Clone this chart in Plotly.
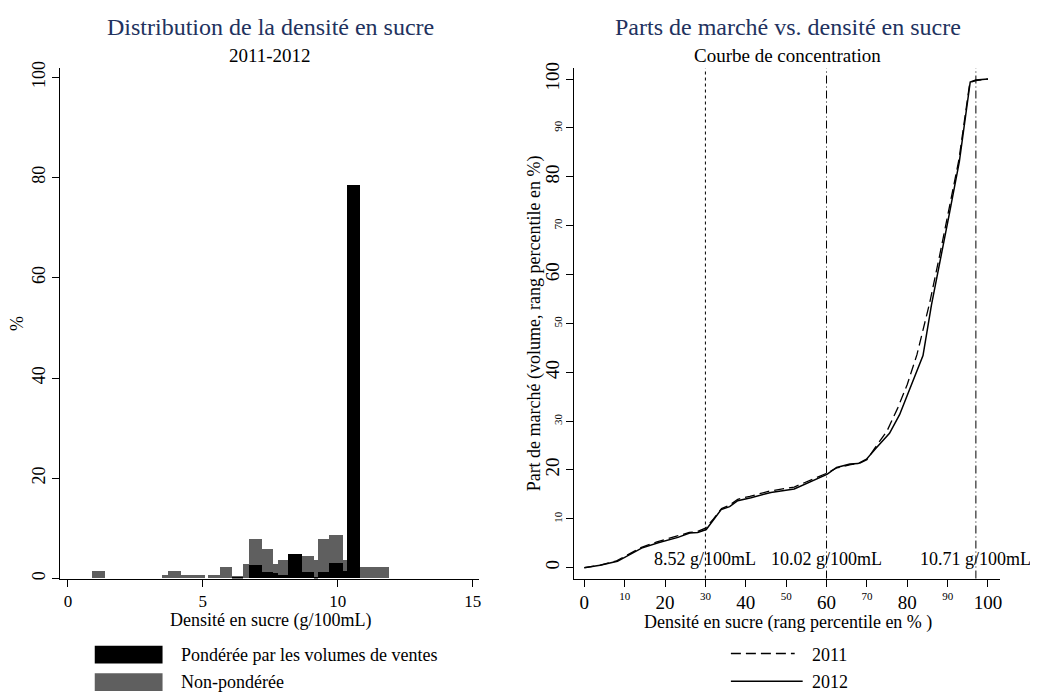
import plotly.graph_objects as go

# ---------------- Data: histogram (left) ----------------
bin_left = [0.89, 3.48, 3.71, 4.17, 4.62, 5.18, 5.62, 6.08, 6.50, 6.70, 7.19, 7.61, 7.79, 8.16, 8.67, 9.12, 9.25, 9.68, 10.20, 10.35, 10.82]
bin_right = [1.38, 3.71, 4.17, 4.62, 5.06, 5.62, 6.08, 6.50, 6.70, 7.19, 7.61, 7.79, 8.16, 8.67, 9.12, 9.25, 9.68, 10.20, 10.35, 10.82, 11.90]
pct_unweighted = [1.4, 0.6, 1.4, 0.6, 0.6, 0.6, 2.2, 0.5, 2.8, 7.9, 5.8, 2.8, 3.6, 3.0, 4.5, 3.6, 7.9, 8.7, 3.6, 2.0, 2.2]
pct_weighted = [0.0, 0.0, 0.0, 0.0, 0.0, 0.0, 0.0, 0.3, 0.0, 2.6, 1.2, 1.0, 0.7, 4.8, 1.2, 0.2, 1.3, 3.0, 1.5, 78.4, 0.0]

# ---------------- Data: concentration curves (right) ----------------
rank_2012 = [0, 3.9, 8.2, 11, 14.2, 18.3, 23.2, 26.1, 28.1, 30.2, 31.9, 33.9, 36, 38, 41.3, 46.2, 52, 56.1, 60.1, 62.5,
             65.8, 67.8, 69.9, 72.3, 75.6, 78.1, 80.6, 83.9, 86, 88.4, 90.4, 92.9, 95.6, 97, 100]
share_2012 = [0, 0.5, 1.3, 2.6, 4.0, 5.1, 6.2, 7.1, 7.2, 7.8, 9.7, 11.9, 12.5, 13.7, 14.3, 15.4, 16.1, 17.6, 19.1, 20.5,
              21.2, 21.3, 22.2, 24.5, 27.5, 31.3, 36.6, 43.4, 53.8, 63.6, 72.3, 83.1, 99.4, 99.8, 100]
rank_2011 = [0, 4, 8, 11, 14, 18, 23, 26, 28, 30, 32, 34, 36, 38, 41, 46, 52, 56, 60, 62.5,
             66, 68, 70, 72, 75, 77.6, 80, 82.4, 85.5, 88, 90.2, 92.8, 95.5, 97, 100]
share_2011 = [0, 0.5, 1.4, 2.7, 4.1, 5.3, 6.4, 7.2, 7.4, 8.1, 10, 12.1, 12.8, 14, 14.6, 15.7, 16.5, 17.9, 19.3, 20.4,
              21.1, 21.3, 22.1, 24.5, 28, 32.6, 37.5, 43.6, 54, 63.8, 72.5, 83.5, 99.3, 99.7, 100]

ref_percentiles = [30, 60, 97]
ref_labels = ["8.52 g/100mL", "10.02 g/100mL", "10.71 g/100mL"]
ref_dashes = ["dot", "8px,3px,1px,3px", "8px,3px,1px,3px"]

left_xticks = [0, 5, 10, 15]
left_yticks = [0, 20, 40, 60, 80, 100]
right_major = [0, 20, 40, 60, 80, 100]
right_minor = [10, 30, 50, 70, 90]

# ---------------- Style ----------------
FONT = "Liberation Serif"
NAVY = "#22325e"
GRAY = "#5f5f5f"
OFF = 8              # page body margin
W, H = 1030, 687     # figure size (page offset compensates)


def px(x):
    return (x - OFF) / W


def py(y):
    return 1 - (y - OFF) / H


centers = [(a + b) / 2 for a, b in zip(bin_left, bin_right)]
widths = [b - a for a, b in zip(bin_left, bin_right)]

fig = go.Figure()
fig.add_trace(go.Bar(x=centers, y=pct_unweighted, width=widths, name="Non-pondérée",
                     marker=dict(color=GRAY, line=dict(width=0)), xaxis="x", yaxis="y", showlegend=False))
fig.add_trace(go.Bar(x=centers, y=pct_weighted, width=widths, name="Pondérée par les volumes de ventes",
                     marker=dict(color="black", line=dict(width=0)), xaxis="x", yaxis="y", showlegend=False))

fig.add_trace(go.Scatter(x=rank_2011, y=share_2011, mode="lines", name="2011",
                         line=dict(color="black", width=1.3, dash="10px,5px"), xaxis="x2", yaxis="y2",
                         showlegend=False))
fig.add_trace(go.Scatter(x=rank_2012, y=share_2012, mode="lines", name="2012",
                         line=dict(color="black", width=1.5), xaxis="x2", yaxis="y2", showlegend=False))
# invisible trace to host the small-label overlay axes
fig.add_trace(go.Scatter(x=[None], y=[None], xaxis="x3", yaxis="y3", showlegend=False, hoverinfo="skip"))

ydom = [py(579), py(62)]
axis_common = dict(showgrid=False, zeroline=False, showline=True, linecolor="black", linewidth=1,
                   ticks="outside", ticklen=7, tickwidth=1, tickcolor="black")

fig.update_layout(
    width=W, height=H, autosize=False,
    margin=dict(l=0, r=0, t=0, b=0),
    paper_bgcolor="white", plot_bgcolor="white",
    barmode="overlay", bargap=0,
    font=dict(family=FONT, color="black", size=18),
    xaxis=dict(domain=[px(60), px(480)], range=[-0.3, 15.22], tickvals=left_xticks,
               tickfont=dict(size=17), anchor="y", **axis_common),
    yaxis=dict(domain=ydom, range=[0, 101.8], tickvals=left_yticks, tickangle=-90,
               tickfont=dict(size=18), anchor="x", **axis_common),
    xaxis2=dict(domain=[px(576), px(1003)], range=[-2.47, 103], tickvals=right_major,
                tickfont=dict(size=19), anchor="y2", **axis_common),
    yaxis2=dict(domain=ydom, range=[-2.22, 102.2], tickvals=right_major, tickangle=-90,
                tickfont=dict(size=19), anchor="x2", **axis_common),
    xaxis3=dict(overlaying="x2", anchor="y2", range=[-2.47, 103], tickvals=right_minor,
                showgrid=False, zeroline=False, showline=False, ticks="outside", ticklen=7,
                tickcolor="black", tickfont=dict(size=11)),
    yaxis3=dict(overlaying="y2", anchor="x2", range=[-2.22, 102.2], tickvals=right_minor, tickangle=-90,
                showgrid=False, zeroline=False, showline=False, ticks="outside", ticklen=7,
                tickcolor="black", tickfont=dict(size=11)),
)

# reference vertical lines + labels
for xv, lab, dsh in zip(ref_percentiles, ref_labels, ref_dashes):
    fig.add_shape(type="line", xref="x2", yref="y2 domain", x0=xv, x1=xv, y0=0, y1=1,
                  line=dict(color="black", width=1, dash=dsh))
    fig.add_annotation(xref="x2", yref="y2 domain", x=xv, y=(579 - 559) / 517, text=lab, showarrow=False,
                       font=dict(size=18, family=FONT), xanchor="center", yanchor="middle")

# titles
ann = [
    dict(x=px(271), y=py(20), text="Distribution de la densité en sucre", font=dict(size=24, color=NAVY)),
    dict(x=px(271), y=py(49), text="2011-2012", font=dict(size=19)),
    dict(x=px(790), y=py(20), text="Parts de marché vs. densité en sucre", font=dict(size=24, color=NAVY)),
    dict(x=px(790), y=py(49), text="Courbe de concentration", font=dict(size=19)),
    dict(x=px(271), y=py(622), text="Densité en sucre (g/100mL)", font=dict(size=18)),
    dict(x=px(790), y=py(624), text="Densité en sucre (rang percentile en % )", font=dict(size=18)),
    dict(x=px(17), y=py(320), text="%", font=dict(size=18), textangle=-90),
    dict(x=px(536), y=py(320), text="Part de marché (volume, rang percentile en %)", font=dict(size=18), textangle=-90),
]
for a in ann:
    fig.add_annotation(xref="paper", yref="paper", showarrow=False, xanchor="center", yanchor="middle",
                       font_family=FONT, **a)

# legends (drawn as keys + text)
fig.add_shape(type="rect", xref="paper", yref="paper", x0=px(95), x1=px(163), y0=py(665), y1=py(647),
              fillcolor="black", line=dict(width=0))
fig.add_shape(type="rect", xref="paper", yref="paper", x0=px(95), x1=px(163), y0=py(693), y1=py(675),
              fillcolor=GRAY, line=dict(width=0))
fig.add_annotation(xref="paper", yref="paper", x=px(180), y=py(656), text="Pondérée par les volumes de ventes",
                   showarrow=False, xanchor="left", yanchor="middle", font=dict(size=18, family=FONT))
fig.add_annotation(xref="paper", yref="paper", x=px(180), y=py(684), text="Non-pondérée",
                   showarrow=False, xanchor="left", yanchor="middle", font=dict(size=18, family=FONT))

fig.add_shape(type="line", xref="paper", yref="paper", x0=px(733), x1=px(797), y0=py(655), y1=py(655),
              line=dict(color="black", width=1.3, dash="10px,5px"))
fig.add_shape(type="line", xref="paper", yref="paper", x0=px(733), x1=px(805), y0=py(683), y1=py(683),
              line=dict(color="black", width=1.5))
fig.add_annotation(xref="paper", yref="paper", x=px(812), y=py(656), text="2011",
                   showarrow=False, xanchor="left", yanchor="middle", font=dict(size=18, family=FONT))
fig.add_annotation(xref="paper", yref="paper", x=px(812), y=py(684), text="2012",
                   showarrow=False, xanchor="left", yanchor="middle", font=dict(size=18, family=FONT))

fig.write_html("out.html")
